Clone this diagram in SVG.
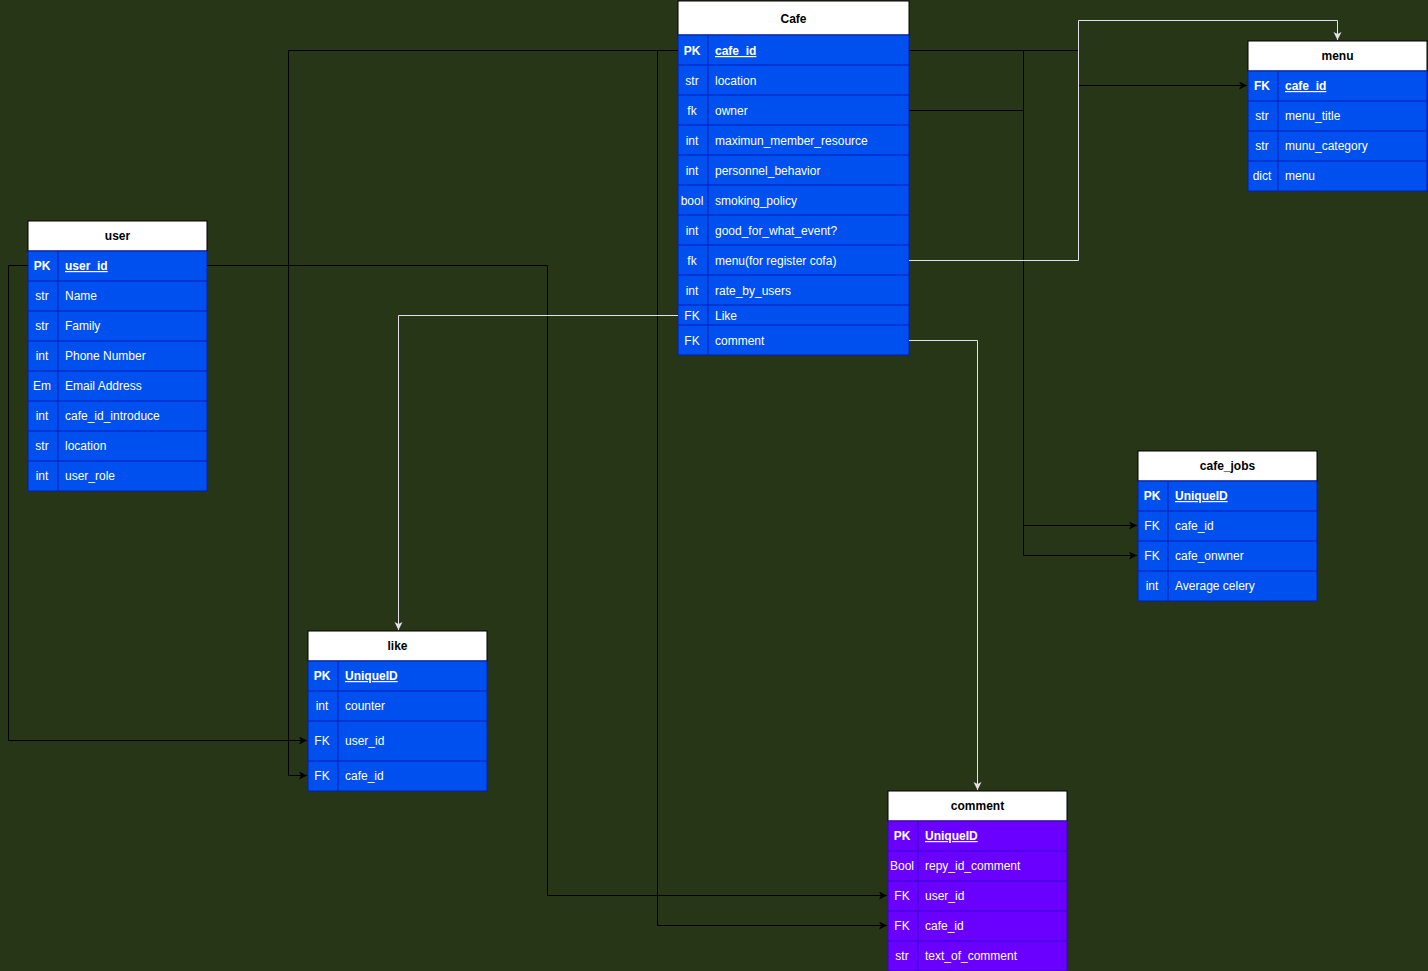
<svg xmlns="http://www.w3.org/2000/svg" width="1428" height="971" viewBox="0 0 1428 971">
<style>
.bg{fill:#283618}
.hdr{fill:#ffffff;stroke:#000000;stroke-width:1}
.body{fill:#0050EF;stroke:#001DBC;stroke-width:1}
.pbody{fill:#6A00FF;stroke:#3700CC;stroke-width:1}
.sep{stroke:#001DBC;stroke-width:1}
.psep{stroke:#3700CC;stroke-width:1}
text{font-family:"Liberation Sans",Arial,sans-serif;font-size:12px;fill:#ffffff}
.ht{font-weight:bold;fill:#000000;text-anchor:middle}
.k{text-anchor:middle}
.kb{text-anchor:middle;font-weight:bold}
.pk{font-weight:bold;text-decoration:underline}
.blk{fill:none;stroke:#000000;stroke-width:1}
.wht{fill:none;stroke:#E6E0EC;stroke-width:1}
</style>
<defs>
<marker id="ab" markerUnits="userSpaceOnUse" markerWidth="10" markerHeight="10" refX="8" refY="4" orient="auto"><path d="M0,0 L8,4 L0,8 L2,4 z" fill="#000000"/></marker>
<marker id="aw" markerUnits="userSpaceOnUse" markerWidth="10" markerHeight="10" refX="8" refY="4" orient="auto"><path d="M0,0 L8,4 L0,8 L2,4 z" fill="#E6E0EC"/></marker>
</defs>
<rect class="bg" x="0" y="0" width="1428" height="971"/>

<g id="cafe">
<rect class="hdr" x="678" y="1" width="231" height="34"/>
<text class="ht" x="793.5" y="23">Cafe</text>
<rect class="body" x="678" y="35" width="231" height="320"/>
<path class="sep" d="M678,65H909M678,95H909M678,125H909M678,155H909M678,185H909M678,215H909M678,245H909M678,275H909M678,305H909M678,325H909M708,35V355"/>
<text class="kb" x="692" y="55">PK</text><text class="pk" x="715" y="55">cafe_id</text>
<text class="k" x="692" y="85">str</text><text x="715" y="85">location</text>
<text class="k" x="692" y="115">fk</text><text x="715" y="115">owner</text>
<text class="k" x="692" y="145">int</text><text x="715" y="145">maximun_member_resource</text>
<text class="k" x="692" y="175">int</text><text x="715" y="175">personnel_behavior</text>
<text class="k" x="692" y="205">bool</text><text x="715" y="205">smoking_policy</text>
<text class="k" x="692" y="235">int</text><text x="715" y="235">good_for_what_event?</text>
<text class="k" x="692" y="265">fk</text><text x="715" y="265">menu(for register cofa)</text>
<text class="k" x="692" y="295">int</text><text x="715" y="295">rate_by_users</text>
<text class="k" x="692" y="320">FK</text><text x="715" y="320">Like</text>
<text class="k" x="692" y="345">FK</text><text x="715" y="345">comment</text>
</g>

<g id="user">
<rect class="hdr" x="28" y="221" width="179" height="30"/>
<text class="ht" x="117.5" y="240">user</text>
<rect class="body" x="28" y="251" width="179" height="240"/>
<path class="sep" d="M28,281H207M28,311H207M28,341H207M28,371H207M28,401H207M28,431H207M28,461H207M58,251V491"/>
<text class="kb" x="42" y="270">PK</text><text class="pk" x="65" y="270">user_id</text>
<text class="k" x="42" y="300">str</text><text x="65" y="300">Name</text>
<text class="k" x="42" y="330">str</text><text x="65" y="330">Family</text>
<text class="k" x="42" y="360">int</text><text x="65" y="360">Phone Number</text>
<text class="k" x="42" y="390">Em</text><text x="65" y="390">Email Address</text>
<text class="k" x="42" y="420">int</text><text x="65" y="420">cafe_id_introduce</text>
<text class="k" x="42" y="450">str</text><text x="65" y="450">location</text>
<text class="k" x="42" y="480">int</text><text x="65" y="480">user_role</text>
</g>

<g id="menu">
<rect class="hdr" x="1248" y="41" width="179" height="30"/>
<text class="ht" x="1337.5" y="60">menu</text>
<rect class="body" x="1248" y="71" width="179" height="120"/>
<path class="sep" d="M1248,101H1427M1248,131H1427M1248,161H1427M1278,71V191"/>
<text class="kb" x="1262" y="90">FK</text><text class="pk" x="1285" y="90">cafe_id</text>
<text class="k" x="1262" y="120">str</text><text x="1285" y="120">menu_title</text>
<text class="k" x="1262" y="150">str</text><text x="1285" y="150">munu_category</text>
<text class="k" x="1262" y="180">dict</text><text x="1285" y="180">menu</text>
</g>

<g id="like">
<rect class="hdr" x="308" y="631" width="179" height="30"/>
<text class="ht" x="397.5" y="650">like</text>
<rect class="body" x="308" y="661" width="179" height="130"/>
<path class="sep" d="M308,691H487M308,721H487M308,761H487M338,661V791"/>
<text class="kb" x="322" y="680">PK</text><text class="pk" x="345" y="680">UniqueID</text>
<text class="k" x="322" y="710">int</text><text x="345" y="710">counter</text>
<text class="k" x="322" y="745">FK</text><text x="345" y="745">user_id</text>
<text class="k" x="322" y="780">FK</text><text x="345" y="780">cafe_id</text>
</g>

<g id="cafe_jobs">
<rect class="hdr" x="1138" y="451" width="179" height="30"/>
<text class="ht" x="1227.5" y="470">cafe_jobs</text>
<rect class="body" x="1138" y="481" width="179" height="120"/>
<path class="sep" d="M1138,511H1317M1138,541H1317M1138,571H1317M1168,481V601"/>
<text class="kb" x="1152" y="500">PK</text><text class="pk" x="1175" y="500">UniqueID</text>
<text class="k" x="1152" y="530">FK</text><text x="1175" y="530">cafe_id</text>
<text class="k" x="1152" y="560">FK</text><text x="1175" y="560">cafe_onwner</text>
<text class="k" x="1152" y="590">int</text><text x="1175" y="590">Average celery</text>
</g>

<g id="comment">
<rect class="hdr" x="888" y="791" width="179" height="30"/>
<text class="ht" x="977.5" y="810">comment</text>
<rect class="pbody" x="888" y="821" width="179" height="150"/>
<path class="psep" d="M888,851H1067M888,881H1067M888,911H1067M888,941H1067M918,821V971"/>
<text class="kb" x="902" y="840">PK</text><text class="pk" x="925" y="840">UniqueID</text>
<text class="k" x="902" y="870">Bool</text><text x="925" y="870">repy_id_comment</text>
<text class="k" x="902" y="900">FK</text><text x="925" y="900">user_id</text>
<text class="k" x="902" y="930">FK</text><text x="925" y="930">cafe_id</text>
<text class="k" x="902" y="960">str</text><text x="925" y="960">text_of_comment</text>
</g>

<g id="connectors">
<path class="blk" d="M678,50.5H288.5V775.5H307" marker-end="url(#ab)"/>
<path class="blk" d="M678,50.5H657.5V925.5H887" marker-end="url(#ab)"/>
<path class="blk" d="M909,50.5H1078.5V85.5H1247" marker-end="url(#ab)"/>
<path class="blk" d="M909,50.5H1023.5V525.5H1137" marker-end="url(#ab)"/>
<path class="blk" d="M909,110.5H1023.5V555.5H1137" marker-end="url(#ab)"/>
<path class="blk" d="M28,265.5H8.5V740.5H307" marker-end="url(#ab)"/>
<path class="blk" d="M207,265.5H547.5V895.5H887" marker-end="url(#ab)"/>
<path class="wht" d="M678,315.5H398.5V630" marker-end="url(#aw)"/>
<path class="wht" d="M909,340.5H977.5V790" marker-end="url(#aw)"/>
<path class="wht" d="M909,260.5H1078.5V20.5H1337.5V40" marker-end="url(#aw)"/>
</g>
</svg>
